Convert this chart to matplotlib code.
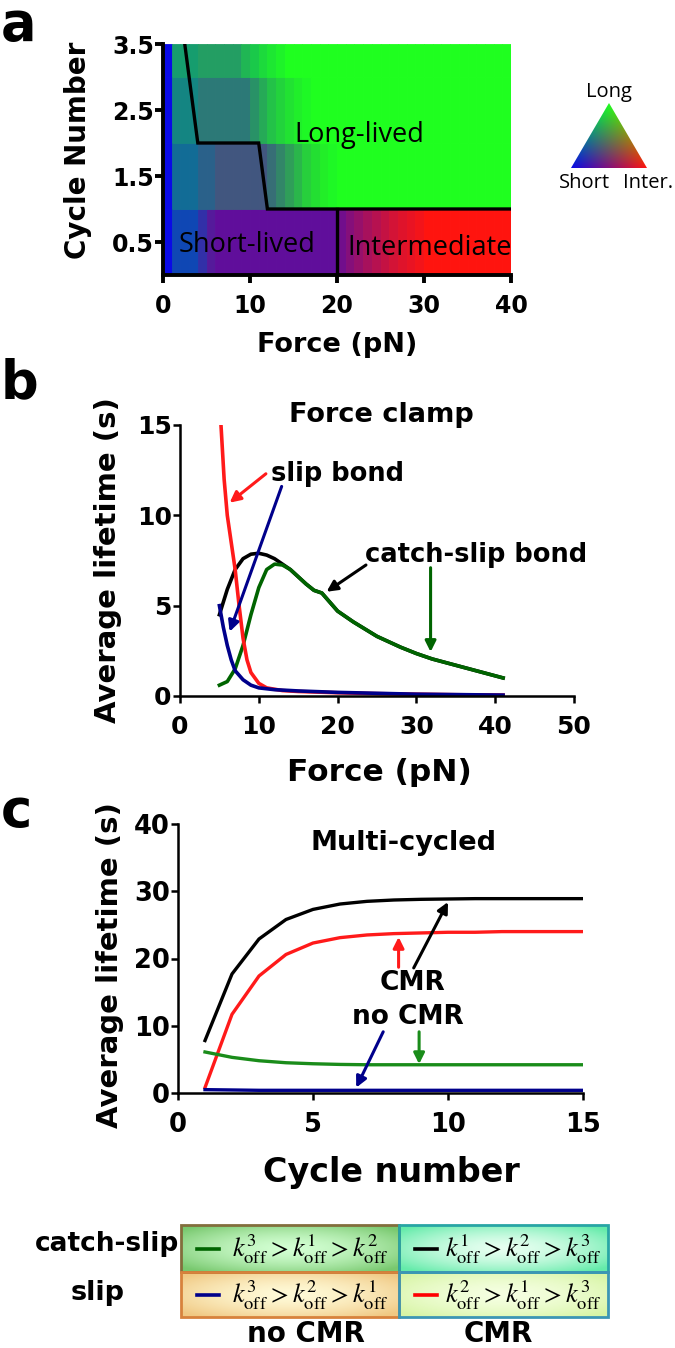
import numpy as np
import matplotlib
matplotlib.use("Agg")
import matplotlib.pyplot as plt
from matplotlib.patches import Polygon, Rectangle

plt.rcParams['font.family'] = ['DejaVu Sans']
plt.rcParams['mathtext.fontset'] = 'stix'

PLAIN = ['Open Sans', 'DejaVu Sans']

# ---------------- panel a: phase diagram ----------------
force_edges = np.arange(0, 41)
cycle_edges = [0, 1, 2, 3, 3.5]
# fraction of long-lived / intermediate state per 1 pN column, one list per row
long_frac = [
    [0, .25, .25, .25, .15, .05] + [0] * 34,
    [0, .4, .4, .4, .35, .35, .3, .3, .3, .3, .3, .3, .4, .5, .6, .7, .8, .87, .93, .97] + [1] * 20,
    [0, .5, .5, .5, .45, .45, .45, .45, .45, .45, .55, .65, .75, .82, .88, .93, .97] + [1] * 23,
    [0, .6, .6, .6, .6, .6, .6, .6, .6, .7, .78, .85, .9, .95] + [1] * 26,
]
inter_frac = [
    [0, 0, 0, 0, .15, .3] + [.35] * 14 + [.42, .5, .57, .64, .7, .76, .82, .87, .91, .95] + [1] * 10,
    [0, 0, 0, 0, .1, .1, .2, .2, .2, .2, .2, .2, .15, .12, .1, .07, .05, .03, .02, 0] + [0] * 20,
    [0, 0, 0, 0, .1, .1, .1, .1, .1, .1, .08, .06, .04, .03, .02, .01, 0] + [0] * 23,
    [0, 0, 0, 0, .05, .05, .05, .05, .05, .03] + [0] * 30,
]
boundary_x = [2.5, 4, 11, 12, 40]
boundary_y = [3.5, 2, 2, 1, 1]
divider_x = [20, 20]
divider_y = [0, 1]

SHORT = np.array([0.04, 0.04, 0.9])
LONG = np.array([0.12, 1.0, 0.12])
INTER = np.array([1.0, 0.08, 0.06])

# ---------------- panel b: force clamp ----------------
red_b_f = [5.2, 5.6, 6.0, 6.5, 7.0, 7.5, 8.0, 8.5, 9, 10, 11, 13, 15, 20, 25, 30, 35, 41]
red_b_t = [15, 12, 10, 8.5, 7.0, 5.0, 3.2, 2.0, 1.3, 0.7, 0.45, 0.3, 0.25, 0.18, 0.13, 0.1, 0.07, 0.05]
blue_b_f = [5, 5.5, 6, 6.5, 7, 8, 9, 10, 12, 15, 20, 30, 41]
blue_b_t = [5.0, 3.8, 2.8, 2.0, 1.4, 0.9, 0.6, 0.45, 0.35, 0.28, 0.2, 0.1, 0.05]
black_b_f = [5, 6, 7, 8, 9, 10, 11, 12, 13, 14, 15, 16, 17, 18, 19, 20, 22, 25, 28, 30, 32, 35, 38, 41]
black_b_t = [4.5, 5.9, 7.0, 7.6, 7.85, 7.9, 7.8, 7.6, 7.3, 7.0, 6.6, 6.2, 5.85, 5.7, 5.2, 4.7, 4.1, 3.3, 2.7, 2.35, 2.05, 1.7, 1.35, 1.0]
green_b_f = [5, 6, 7, 8, 9, 10, 11, 12, 13, 14, 15, 16, 17, 18, 19, 20, 22, 25, 28, 30, 32, 35, 38, 41]
green_b_t = [0.6, 0.8, 1.5, 2.8, 4.5, 6.0, 7.0, 7.3, 7.25, 7.0, 6.6, 6.2, 5.85, 5.7, 5.2, 4.7, 4.1, 3.3, 2.7, 2.35, 2.05, 1.7, 1.35, 1.0]

# ---------------- panel c: multi-cycled ----------------
cycles = [1, 2, 3, 4, 5, 6, 7, 8, 9, 10, 11, 12, 13, 14, 15]
black_c = [7.8, 17.7, 22.9, 25.8, 27.3, 28.1, 28.5, 28.7, 28.8, 28.85, 28.9, 28.9, 28.9, 28.9, 28.9]
red_c = [0.8, 11.7, 17.4, 20.6, 22.3, 23.1, 23.5, 23.7, 23.8, 23.9, 23.9, 24.0, 24.0, 24.0, 24.0]
green_c = [6.1, 5.3, 4.8, 4.5, 4.35, 4.25, 4.2, 4.2, 4.2, 4.2, 4.2, 4.2, 4.2, 4.2, 4.2]
blue_c = [0.5, 0.45, 0.4, 0.4, 0.4, 0.4, 0.4, 0.4, 0.4, 0.4, 0.4, 0.4, 0.4, 0.4, 0.4]

# ---------------- legend table ----------------
row_labels = ['catch-slip', 'slip']
col_labels = ['no CMR', 'CMR']
cell_text = [
    [r'$k^{3}_{\mathrm{off}} > k^{1}_{\mathrm{off}} > k^{2}_{\mathrm{off}}$',
     r'$k^{1}_{\mathrm{off}} > k^{2}_{\mathrm{off}} > k^{3}_{\mathrm{off}}$'],
    [r'$k^{3}_{\mathrm{off}} > k^{2}_{\mathrm{off}} > k^{1}_{\mathrm{off}}$',
     r'$k^{2}_{\mathrm{off}} > k^{1}_{\mathrm{off}} > k^{3}_{\mathrm{off}}$'],
]
cell_line = [['#006400', 'black'], ['#00008b', 'red']]

W, H = 675, 1348
fig = plt.figure(figsize=(W / 100, H / 100), dpi=100)


def box(l, t, r, b):
    return [l / W, 1 - b / H, (r - l) / W, (b - t) / H]


def style(ax, size, lw, length):
    for s in ['top', 'right']:
        ax.spines[s].set_visible(False)
    for s in ['left', 'bottom']:
        ax.spines[s].set_linewidth(lw)
    ax.tick_params(direction='out', width=lw, length=length, labelsize=size)
    ax.tick_params(axis='x', pad=8.5)
    ax.tick_params(axis='y', pad=1)
    for lab in ax.get_xticklabels() + ax.get_yticklabels():
        lab.set_fontweight('bold')


# panel a
axa = fig.add_axes(box(163, 44, 511, 275))
for r in range(4):
    for c in range(40):
        lf = long_frac[r][c]
        itf = inter_frac[r][c]
        col = np.clip((1 - lf - itf) * SHORT + lf * LONG + itf * INTER, 0, 1)
        axa.add_patch(Rectangle((force_edges[c], cycle_edges[r]), 1, cycle_edges[r + 1] - cycle_edges[r],
                                facecolor=col, edgecolor=col, lw=0.6))
axa.plot(boundary_x, boundary_y, color='black', lw=2.4, solid_joinstyle='miter')
axa.plot(divider_x, divider_y, color='black', lw=2.4)
axa.set_xlim(0, 40)
axa.set_ylim(0, 3.5)
axa.set_xticks([0, 10, 20, 30, 40])
axa.set_yticks([0.5, 1.5, 2.5, 3.5])
style(axa, 17, 2.8, 5.5)
axa.text(22.6, 2.12, 'Long-lived', family=PLAIN, fontsize=19.5, ha='center', va='center')
axa.text(9.7, 0.45, 'Short-lived', family=PLAIN, fontsize=19.5, ha='center', va='center')
axa.text(30.6, 0.41, 'Intermediate', family=PLAIN, fontsize=19.5, ha='center', va='center')
axa.set_xlabel('Force (pN)', fontsize=19.5, fontweight='bold', va='center')
axa.xaxis.set_label_coords(0.5, -0.303)
axa.set_ylabel('Cycle Number', fontsize=20, fontweight='bold', va='center')
axa.yaxis.set_label_coords((78 - 163) / 348, 0.54)

# panel b
axb = fig.add_axes(box(180, 425, 574, 696))
axb.plot(black_b_f, black_b_t, color='black', lw=2.6)
axb.plot(green_b_f, green_b_t, color='#006400', lw=2.6)
axb.plot(red_b_f, red_b_t, color='#ff1a1a', lw=2.6)
axb.plot(blue_b_f, blue_b_t, color='#00008b', lw=2.6)
axb.set_xlim(0, 50)
axb.set_ylim(0, 15)
axb.set_xticks([0, 10, 20, 30, 40, 50])
axb.set_yticks([0, 5, 10, 15])
style(axb, 18, 1.8, 5)
axb.text(0.51, 1.037, 'Force clamp', transform=axb.transAxes, fontweight='bold',
         fontsize=19.5, ha='center', va='center')
axb.text(20, 12.3, 'slip bond', fontweight='bold', fontsize=18.5, ha='center', va='center')
axb.text(37.6, 7.8, 'catch-slip bond', fontweight='bold', fontsize=18.5, ha='center', va='center')
arr = dict(arrowstyle='-|>', lw=2.2, mutation_scale=16, shrinkA=0, shrinkB=0)
axb.annotate('', xy=(6.3, 10.7), xytext=(10.9, 12.3), arrowprops=dict(arr, color='#ff1a1a'))
axb.annotate('', xy=(6.3, 3.56), xytext=(12.9, 11.6), arrowprops=dict(arr, color='#00008b'))
axb.annotate('', xy=(18.6, 5.77), xytext=(23.6, 7.25), arrowprops=dict(arr, color='black'))
axb.annotate('', xy=(31.8, 2.44), xytext=(31.8, 7.1), arrowprops=dict(arr, color='#006400'))
axb.set_xlabel('Force (pN)', fontsize=22.5, fontweight='bold', va='center')
axb.xaxis.set_label_coords(0.505, -0.284)
axb.set_ylabel('Average lifetime (s)', fontsize=21, fontweight='bold', va='center')
axb.yaxis.set_label_coords((108 - 180) / 394, 0.5)

# panel c
axc = fig.add_axes(box(178, 824, 583, 1093))
axc.plot(cycles, black_c, color='black', lw=2.4)
axc.plot(cycles, red_c, color='#ff1a1a', lw=2.4)
axc.plot(cycles, green_c, color='#1a8c1a', lw=2.4)
axc.plot(cycles, blue_c, color='#00008b', lw=2.4)
axc.set_xlim(0, 15)
axc.set_ylim(0, 40)
axc.set_xticks([0, 5, 10, 15])
axc.set_yticks([0, 10, 20, 30, 40])
style(axc, 18.5, 1.8, 5)
axc.text(0.556, 0.929, 'Multi-cycled', transform=axc.transAxes, fontweight='bold',
         fontsize=19.5, ha='center', va='center')
axc.text(8.67, 16.4, 'CMR', fontweight='bold', fontsize=19, ha='center', va='center')
axc.text(8.5, 11.3, 'no CMR', fontweight='bold', fontsize=19, ha='center', va='center')
axc.annotate('', xy=(8.17, 23.2), xytext=(8.17, 18.7), arrowprops=dict(arr, color='#ff1a1a'))
axc.annotate('', xy=(10.0, 28.4), xytext=(8.73, 18.6), arrowprops=dict(arr, color='black'))
axc.annotate('', xy=(8.93, 4.3), xytext=(8.93, 9.1), arrowprops=dict(arr, color='#1a8c1a'))
axc.annotate('', xy=(6.6, 0.8), xytext=(7.6, 9.1), arrowprops=dict(arr, color='#00008b'))
axc.set_xlabel('Cycle number', fontsize=24, fontweight='bold', va='center')
axc.xaxis.set_label_coords(0.528, -0.297)
axc.set_ylabel('Average lifetime (s)', fontsize=21, fontweight='bold', va='center')
axc.yaxis.set_label_coords((110 - 178) / 405, 0.476)

# overlay in pixel coordinates: panel letters, colour triangle, legend table
ov = fig.add_axes([0, 0, 1, 1])
ov.set_xlim(0, W)
ov.set_ylim(H, 0)
ov.axis('off')

for letter, (lx, ly) in zip('abc', [(1, 40), (1, 398), (1, 827)]):
    ov.text(lx, ly, letter, fontsize=38, fontweight='bold', ha='left', va='baseline')

apex, left_pt, right_pt = np.array([609, 103]), np.array([571, 168]), np.array([647, 168])
gx, gy = np.meshgrid(np.linspace(565, 653, 180), np.linspace(98, 172, 150))
T = np.array([[left_pt[0] - apex[0], right_pt[0] - apex[0]], [left_pt[1] - apex[1], right_pt[1] - apex[1]]])
Ti = np.linalg.inv(T)
ws = Ti[0, 0] * (gx - apex[0]) + Ti[0, 1] * (gy - apex[1])
wi = Ti[1, 0] * (gx - apex[0]) + Ti[1, 1] * (gy - apex[1])
wl = 1 - ws - wi
ws, wi, wl = [np.clip(w, 0, 1) for w in (ws, wi, wl)]
tri_img = np.clip(ws[..., None] * SHORT + wl[..., None] * LONG + wi[..., None] * INTER, 0, 1)
im = ov.imshow(tri_img, extent=(565, 653, 172, 98), aspect='auto', interpolation='bilinear')
tri = Polygon([apex, left_pt, right_pt], closed=True, transform=ov.transData, fc='none', ec='none')
ov.add_patch(tri)
im.set_clip_path(tri)
ov.text(609, 92, 'Long', family=PLAIN, fontsize=14.5, ha='center', va='center')
ov.text(584, 183, 'Short', family=PLAIN, fontsize=14.5, ha='center', va='center')
ov.text(648, 183, 'Inter.', family=PLAIN, fontsize=14.5, ha='center', va='center')

col_x = [181, 399, 608]
row_y = [1225, 1272, 1317]
cell_center = [[(210, 255, 210), (230, 255, 240)], [(255, 250, 215), (245, 255, 225)]]
cell_edge = [[(120, 200, 110), (100, 235, 170)], [(240, 200, 130), (215, 245, 165)]]
cell_border = [[(130, 110, 60), (40, 165, 165)], [(215, 130, 60), (60, 150, 180)]]
for r in range(2):
    for c in range(2):
        x0, x1 = col_x[c], col_x[c + 1]
        y0, y1 = row_y[r], row_y[r + 1]
        u, v = np.meshgrid(np.linspace(-1, 1, 120), np.linspace(-1, 1, 40))
        t = np.clip(np.sqrt(u ** 2 * 0.6 + v ** 2 * 0.6), 0, 1)[..., None] ** 1.6
        g = (np.array(cell_center[r][c]) * (1 - t) + np.array(cell_edge[r][c]) * t) / 255
        ov.imshow(g, extent=(x0, x1, y1, y0), aspect='auto', interpolation='bilinear')
        ov.add_patch(Rectangle((x0, y0), x1 - x0, y1 - y0, fc='none',
                               ec=np.array(cell_border[r][c]) / 255, lw=2))
        lx = x0 + 16
        ov.plot([lx, lx + 22], [(y0 + y1) / 2, (y0 + y1) / 2], color=cell_line[r][c], lw=2.6)
        ov.text((x0 + x1) / 2 + 20, (y0 + y1) / 2 + 1, cell_text[r][c], fontsize=19,
                ha='center', va='center')

ov.text(179, 1244, row_labels[0], fontsize=19, fontweight='bold', ha='right', va='center')
ov.text(98, 1293, row_labels[1], fontsize=19.5, fontweight='bold', ha='center', va='center')
ov.text(306, 1334, col_labels[0], fontsize=20, fontweight='bold', ha='center', va='center')
ov.text(498, 1334, col_labels[1], fontsize=20, fontweight='bold', ha='center', va='center')
ov.set_xlim(0, W)
ov.set_ylim(H, 0)

fig.savefig('out.png', dpi=100)
